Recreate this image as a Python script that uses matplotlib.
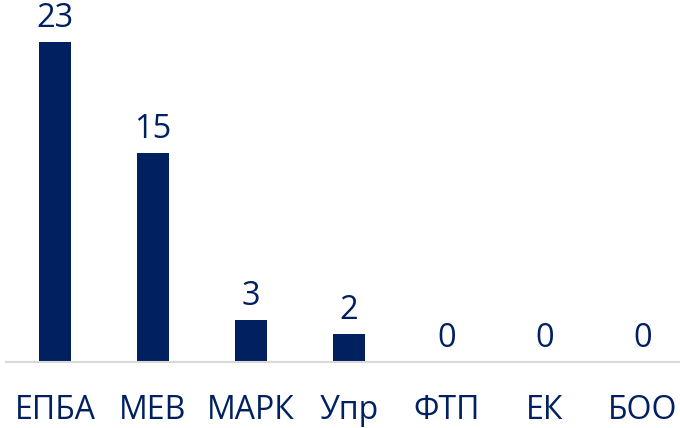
import matplotlib
matplotlib.use("Agg")
import matplotlib.pyplot as plt

# --- Data ---
categories = ["ЕПБА", "МЕВ", "МАРК", "Упр", "ФТП", "ЕК", "БОО"]
values = [23, 15, 3, 2, 0, 0, 0]

navy = "#002060"
plt.rcParams['font.family'] = ['Open Sans', 'DejaVu Sans']

W, H = 680, 428
fig = plt.figure(figsize=(W / 100, H / 100), dpi=100)

# axes spans a bit past the right edge, like the cropped original
left, bottom = 6, 428 - 362
px_per_unit = 320 / 23
ymax = 25
ax = fig.add_axes([left / W, bottom / H, 686 / W, ymax * px_per_unit / H])

x = range(len(categories))
bars = ax.bar(x, values, width=0.32, color=navy)

for xi, v in zip(x, values):
    ax.annotate(str(v), (xi, v), xytext=(0, 5), textcoords="offset points",
                ha="center", va="bottom", fontsize=23.5, color=navy)

ax.set_xlim(-0.5, 6.5)
ax.set_ylim(0, ymax)
ax.set_xticks(list(x))
ax.set_xticklabels(categories, fontsize=23, color=navy)
ax.tick_params(axis="x", length=0, pad=23)
ax.set_yticks([])

for side in ["top", "right", "left"]:
    ax.spines[side].set_visible(False)
ax.spines["bottom"].set_color("#d9d9d9")
ax.spines["bottom"].set_linewidth(1.5)

fig.savefig("out.png", dpi=100)
